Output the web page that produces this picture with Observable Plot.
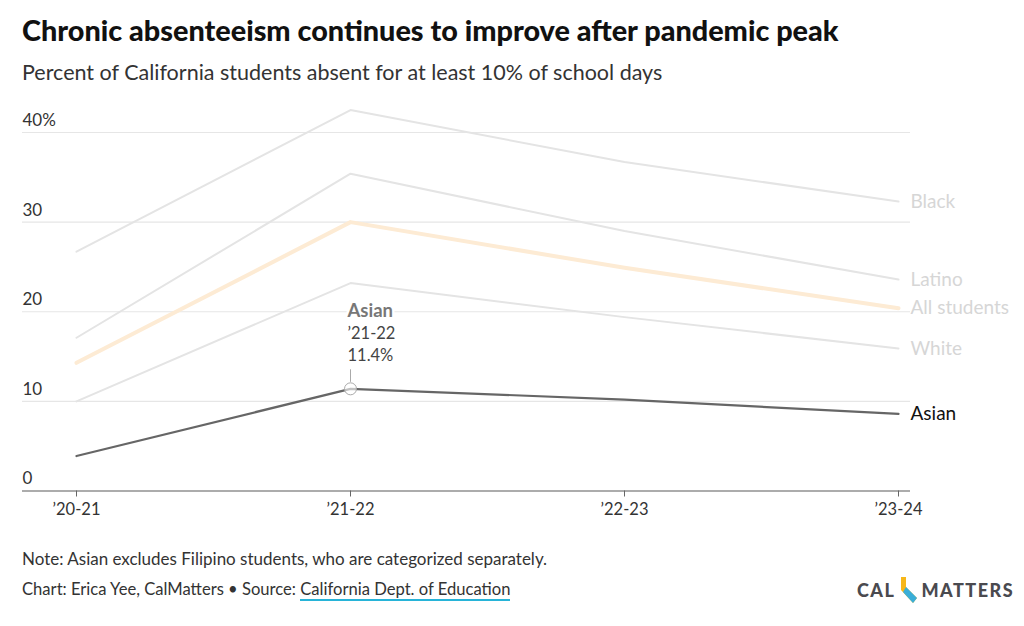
<!DOCTYPE html>
<html>
<head>
<meta charset="utf-8">
<script src="https://cdn.jsdelivr.net/npm/d3@7"></script>
<script src="https://cdn.jsdelivr.net/npm/@observablehq/plot@0.6"></script>
<style>
  html, body { margin: 0; padding: 0; background: #fff; }
  #wrap { position: relative; width: 1024px; height: 626px; font-family: "Lato", "Noto Sans", sans-serif; color: #222; }
  #title { position: absolute; left: 22px; top: 16px; font-size: 28.8px; font-weight: 900; color: #111; line-height: 1; white-space: nowrap; }
  #subtitle { position: absolute; left: 22px; top: 62px; font-size: 21.5px; color: #333; line-height: 1; white-space: nowrap; }
  #chart { position: absolute; left: 0; top: 95px; }
  #note { position: absolute; left: 22px; top: 550px; font-size: 17px; color: #333; line-height: 1; white-space: nowrap; }
  #credit { position: absolute; left: 22px; top: 581px; font-size: 16.6px; color: #333; line-height: 1; white-space: nowrap; }
  #credit a { color: #333; text-decoration: none; border-bottom: 2px solid #27b4d8; }
  #logo { position: absolute; left: 857px; top: 577px; font-size: 18px; font-weight: 900; color: #4a4a4f; letter-spacing: 1.5px; line-height: 1; white-space: nowrap; display: flex; align-items: center; }
</style>
</head>
<body>
<div id="wrap">
  <div id="title">Chronic absenteeism continues to improve after pandemic peak</div>
  <div id="subtitle">Percent of California students absent for at least 10% of school days</div>
  <div id="chart"></div>
  <div id="note">Note: Asian excludes Filipino students, who are categorized separately.</div>
  <div id="credit">Chart: Erica Yee, CalMatters • Source: <a>California Dept. of Education</a></div>
  <div id="logo">CAL<svg width="22" height="26" viewBox="0 0 22 26" style="margin:0 2px"><polygon points="4,0 9,0 9,10 20,21 16,26 4,13" fill="#f7b719"/><polygon points="9,10 20,21 16,26 6,15" fill="#3aaed8"/></svg>MATTERS</div>
</div>
<script>
const years = ["’20-21", "’21-22", "’22-23", "’23-24"];
const seriesNames = ["Black", "Latino", "White", "All students", "Asian"];
const black = [26.7, 42.5, 36.7, 32.3];
const latino = [17.1, 35.4, 29.0, 23.6];
const white = [10.0, 23.2, 19.4, 15.9];
const allStudents = [14.3, 30.0, 24.9, 20.4];
const asian = [3.9, 11.4, 10.2, 8.6];
const yTicks = [0, 10, 20, 30, 40];
const yTickLabels = ["0", "10", "20", "30", "40%"];

const valuesBySeries = { "Black": black, "Latino": latino, "White": white, "All students": allStudents, "Asian": asian };
const rows = seriesNames.flatMap(s => years.map((yr, i) => ({ series: s, year: yr, value: valuesBySeries[s][i] })));
const lastRows = seriesNames.map(s => ({ series: s, year: years[years.length - 1], value: valuesBySeries[s][years.length - 1] }));
const gray = rows.filter(d => d.series === "Black" || d.series === "Latino" || d.series === "White");
const allRows = rows.filter(d => d.series === "All students");
const asianRows = rows.filter(d => d.series === "Asian");
const hl = { year: years[1], value: asian[1] };

const labelColor = { "Black": "#d6d6d6", "Latino": "#d6d6d6", "White": "#d6d6d6", "All students": "#d6d6d6", "Asian": "#111" };

const chart = Plot.plot({
  width: 1024,
  height: 430,
  marginLeft: 22,
  marginRight: 114,
  marginTop: 37,
  marginBottom: 34.5,
  style: { fontFamily: "Lato, 'Noto Sans', sans-serif", fontSize: "15px", background: "#fff" },
  x: { type: "point", domain: years, range: [75, 898], padding: 0 },
  y: { domain: [0, 40], axis: null },
  marks: [
    Plot.gridY(yTicks, { stroke: "#e6e6e6", strokeOpacity: 1, strokeWidth: 1.2 }),
    Plot.text(yTicks, { y: d => d, text: (d, i) => yTickLabels[i], frameAnchor: "left", textAnchor: "start", dy: -12, fontSize: 17, fill: "#333" }),
    Plot.ruleY([0], { stroke: "#666", strokeWidth: 1.2 }),
    Plot.axisX({ tickSize: 6, tickPadding: 6, fontSize: 16.5, label: null, stroke: "#666", color: "#333" }),
    Plot.line(gray, { x: "year", y: "value", z: "series", stroke: "#e4e4e4", strokeWidth: 2 }),
    Plot.line(allRows, { x: "year", y: "value", stroke: "#fdebd4", strokeWidth: 4 }),
    Plot.ruleX([hl], { x: "year", y1: "value", y2: d => d.value + 1.4, dy: -6.5, stroke: "#aaa", strokeWidth: 1 }),
    Plot.line(asianRows, { x: "year", y: "value", stroke: "#666", strokeWidth: 2.2 }),
    Plot.dot([hl], { x: "year", y: "value", r: 6, fill: "white", fillOpacity: 0.6, stroke: "#aaa", strokeWidth: 1 }),
    Plot.text([hl], { x: "year", y: "value", text: d => "Asian", dx: -3, dy: -78, textAnchor: "start", fontSize: 18.5, fontWeight: "bold", fill: "#777", stroke: "white", strokeWidth: 5 }),
    Plot.text([hl], { x: "year", y: "value", text: d => d.year, dx: -3, dy: -55, textAnchor: "start", fontSize: 16.5, fill: "#444" }),
    Plot.text([hl], { x: "year", y: "value", text: d => d.value.toFixed(1) + "%", dx: -3, dy: -33, textAnchor: "start", fontSize: 16.5, fill: "#444" }),
    Plot.text(lastRows, { x: "year", y: "value", text: "series", dx: 12, textAnchor: "start", fontSize: 19, fill: d => labelColor[d.series] })
  ]
});
document.getElementById("chart").appendChild(chart);
</script>
</body>
</html>
